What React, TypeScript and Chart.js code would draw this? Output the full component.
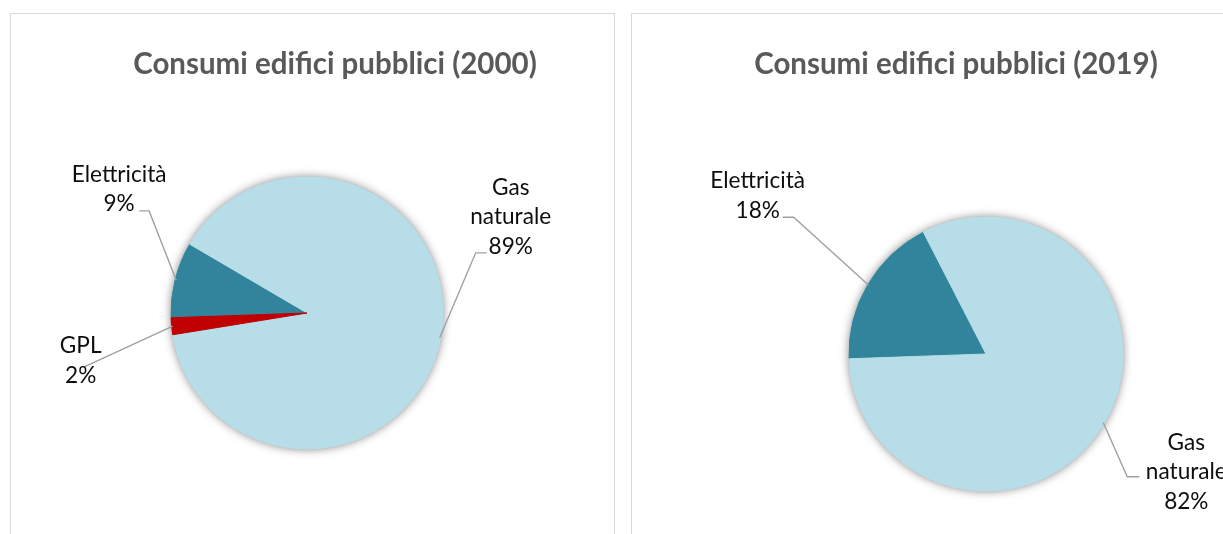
import React, { useEffect, useRef } from 'react';
import { Chart, registerables } from 'chart.js';

Chart.register(...registerables);

// ---- data ----
const categories2000 = ['Elettricità', 'Gas naturale', 'GPL'];
const values2000 = [9, 89, 2];
const categories2019 = ['Elettricità', 'Gas naturale'];
const values2019 = [18, 82];
const title2000 = 'Consumi edifici pubblici (2000)';
const title2019 = 'Consumi edifici pubblici (2019)';

const colorMap: Record<string, string> = {
  'Elettricità': '#31849B',
  'Gas naturale': '#B7DDE8',
  'GPL': '#C00000',
};

const TITLE_FONT = 'bold 29.5px Lato, "Open Sans", sans-serif';
const LABEL_FONT = '22.6px Lato, "Open Sans", sans-serif';
const LINE_H = 29.5;

type LabelSpec = { dx: number; dy: number; end: [number, number]; elbow?: [number, number] };

function makePlugin(title: string, labels: LabelSpec[]) {
  return {
    id: 'excelPie',
    beforeDatasetsDraw(chart: any) {
      const el = chart.getDatasetMeta(0).data[0];
      if (!el) return;
      const { x, y, outerRadius } = el.getProps(['x', 'y', 'outerRadius'], true);
      const ctx = chart.ctx;
      ctx.save();
      ctx.beginPath();
      ctx.arc(x, y, outerRadius, 0, Math.PI * 2);
      ctx.fillStyle = '#B7DDE8';
      ctx.shadowColor = 'rgba(0,0,0,0.5)';
      ctx.shadowBlur = 10;
      ctx.shadowOffsetX = 0;
      ctx.shadowOffsetY = 0;
      ctx.fill();
      ctx.restore();
    },
    afterDraw(chart: any) {
      const ctx = chart.ctx;
      ctx.save();
      ctx.font = TITLE_FONT;
      ctx.fillStyle = '#595959';
      ctx.textAlign = 'center';
      ctx.textBaseline = 'alphabetic';
      ctx.fillText(title, 324, 59.5);

      const meta = chart.getDatasetMeta(0);
      const data: number[] = chart.data.datasets[0].data;
      const names: string[] = chart.data.labels;
      const total = data.reduce((a, b) => a + b, 0);
      meta.data.forEach((el: any, i: number) => {
        const spec = labels[i];
        if (!spec) return;
        const { x, y, startAngle, endAngle, outerRadius } = el.getProps(
          ['x', 'y', 'startAngle', 'endAngle', 'outerRadius'],
          true
        );
        const mid = (startAngle + endAngle) / 2;
        const ax = x + Math.cos(mid) * (outerRadius - 1);
        const ay = y + Math.sin(mid) * (outerRadius - 1);
        ctx.beginPath();
        ctx.strokeStyle = '#A0A0A0';
        ctx.lineWidth = 1.4;
        ctx.moveTo(ax, ay);
        if (spec.elbow) ctx.lineTo(ax + spec.elbow[0], ay + spec.elbow[1]);
        ctx.lineTo(ax + spec.end[0], ay + spec.end[1]);
        ctx.stroke();

        const pct = Math.round((data[i] / total) * 100) + '%';
        const lines = [...names[i].split(' '), pct];
        ctx.font = LABEL_FONT;
        ctx.fillStyle = '#0D0D0D';
        ctx.textAlign = 'center';
        ctx.textBaseline = 'alphabetic';
        lines.forEach((t, k) => {
          ctx.fillText(t, ax + spec.dx, ay + spec.dy + k * LINE_H);
        });
      });
      ctx.restore();
    },
  };
}

type PanelProps = {
  left: number;
  title: string;
  categories: string[];
  values: number[];
  rotation: number;
  radius: number;
  padding: { left: number; right: number; top: number; bottom: number };
  labels: LabelSpec[];
};

function PiePanel(props: PanelProps) {
  const ref = useRef<HTMLCanvasElement>(null);
  useEffect(() => {
    if (!ref.current) return;
    const colors = props.categories.map((c) => colorMap[c]);
    const chart = new Chart(ref.current, {
      type: 'pie',
      data: {
        labels: props.categories,
        datasets: [
          {
            data: props.values,
            backgroundColor: colors,
            borderColor: colors,
            borderWidth: 1,
          },
        ],
      },
      options: {
        responsive: false,
        animation: false,
        events: [],
        rotation: props.rotation,
        radius: props.radius,
        layout: { padding: props.padding },
        plugins: {
          legend: { display: false },
          title: { display: false },
          tooltip: { enabled: false },
        },
      } as any,
      plugins: [makePlugin(props.title, props.labels) as any],
    });
    return () => chart.destroy();
  }, []);
  return (
    <div
      style={{
        position: 'absolute',
        left: props.left,
        top: 13,
        width: 603,
        height: 600,
        border: '1px solid #D9D9D9',
        background: '#fff',
      }}
    >
      <canvas ref={ref} width={603} height={520} style={{ display: 'block' }} />
    </div>
  );
}

export default function App() {
  return (
    <div
      style={{
        position: 'fixed',
        left: 0,
        top: 0,
        right: 0,
        bottom: 0,
        overflow: 'hidden',
        background: '#fff',
      }}
    >
      <PiePanel
        left={10}
        title={title2000}
        categories={categories2000}
        values={values2000}
        rotation={268}
        radius={136}
        padding={{ left: 160, right: 171, top: 163, bottom: 85 }}
        labels={[
          { dx: -57, dy: -98, elbow: [-27, -69], end: [-37, -69] },
          { dx: 71, dy: -143, elbow: [36, -85], end: [47, -85] },
          { dx: -92, dy: 27, end: [-89, 41] },
        ]}
      />
      <PiePanel
        left={631}
        title={title2019}
        categories={categories2019}
        values={values2019}
        rotation={268}
        radius={137}
        padding={{ left: 217, right: 112, top: 203, bottom: 43 }}
        labels={[
          { dx: -111, dy: -97, elbow: [-75, -68], end: [-86, -68] },
          { dx: 83, dy: 27, elbow: [24, 54], end: [36, 54] },
        ]}
      />
    </div>
  );
}
